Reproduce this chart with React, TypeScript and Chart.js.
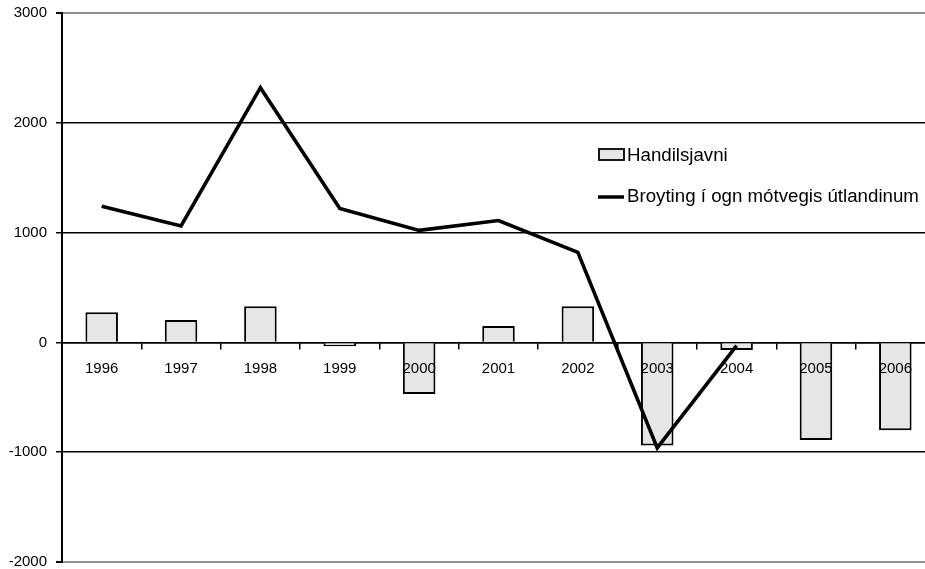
import React, { useEffect, useRef } from "react";
import { Chart, registerables } from "chart.js";

Chart.register(...registerables);

const years = ["1996", "1997", "1998", "1999", "2000", "2001", "2002", "2003", "2004", "2005", "2006"];
const tradeBalance = [275, 205, 330, -35, -470, 150, 330, -940, -70, -890, -800];
const foreignChange: (number | null)[] = [1240, 1060, 2320, 1220, 1020, 1110, 820, -960, -30, null, null];
const yTicks = [-2000, -1000, 0, 1000, 2000, 3000];

const barLabel = "Handilsjavni";
const lineLabel = "Broyting í ogn mótvegis útlandinum";

const FONT = "'Liberation Sans', Arial, sans-serif";

const legendPlugin = {
  id: "insideLegend",
  afterDraw(chart: any) {
    const ctx = chart.ctx;
    const ds = chart.data.datasets;
    ctx.save();
    ctx.font = `18.7px ${FONT}`;
    ctx.textBaseline = "middle";
    // bar entry
    ctx.fillStyle = ds[1].backgroundColor;
    ctx.fillRect(599, 149, 25, 11);
    ctx.lineWidth = 1.8;
    ctx.strokeStyle = "#000";
    ctx.strokeRect(599, 149, 25, 11);
    ctx.fillStyle = "#000";
    ctx.fillText(ds[1].label, 627, 156);
    // line entry
    ctx.beginPath();
    ctx.lineWidth = 3.5;
    ctx.moveTo(598, 197);
    ctx.lineTo(624, 197);
    ctx.stroke();
    ctx.fillText(ds[0].label, 627, 197);
    ctx.restore();
  },
};

export default function App() {
  const ref = useRef<HTMLCanvasElement | null>(null);

  useEffect(() => {
    if (!ref.current) return;
    const chart = new Chart(ref.current, {
      data: {
        labels: years,
        datasets: [
          {
            type: "line",
            label: lineLabel,
            data: foreignChange,
            borderColor: "#000",
            borderWidth: 3.6,
            pointRadius: 0,
            tension: 0,
            order: 0,
            spanGaps: false,
          } as any,
          {
            type: "bar",
            label: barLabel,
            data: tradeBalance,
            backgroundColor: "#e6e6e6",
            borderColor: "#000",
            borderWidth: 2,
            barPercentage: 0.41,
            categoryPercentage: 1,
            order: 1,
          } as any,
        ],
      },
      options: {
        animation: false,
        responsive: false,
        layout: { padding: { top: 13, bottom: 7, left: 0, right: 0 } },
        plugins: { legend: { display: false }, tooltip: { enabled: false } },
        scales: {
          x: {
            type: "category",
            position: { y: 0 } as any,
            offset: true,
            grid: {
              drawOnChartArea: false,
              offset: true,
              color: "#000",
              tickLength: 6,
              lineWidth: 1.5,
            },
            border: { display: true, color: "#000", width: 1.5 },
            ticks: {
              color: "#000",
              font: { family: FONT, size: 15 },
              padding: 11,
              maxRotation: 0,
              autoSkip: false,
              z: 1,
            } as any,
          },
          y: {
            min: -2000,
            max: 3000,
            afterFit(scale: any) {
              scale.width = 62;
              scale.paddingTop = 0;
              scale.paddingBottom = 0;
            },
            afterBuildTicks(scale: any) {
              scale.ticks = yTicks.map((v) => ({ value: v }));
            },
            grid: {
              color: (c: any) =>
                c.tick && (c.tick.value === 3000 || c.tick.value === -2000) ? "#8f8f8f" : "#000",
              lineWidth: (c: any) =>
                c.tick && (c.tick.value === 3000 || c.tick.value === -2000) ? 2 : 1.5,
              tickColor: "#000",
              tickLength: 6,
            },
            border: { display: true, color: "#000", width: 2 },
            ticks: {
              color: "#000",
              font: { family: FONT, size: 15 },
              padding: 9,
              callback: (v: any) => String(v),
            },
          },
        },
      },
      plugins: [legendPlugin],
    });
    return () => chart.destroy();
  }, []);

  return (
    <div style={{ position: "fixed", left: 0, top: 0, width: 935, height: 569, overflow: "hidden" }}>
      <canvas ref={ref} width={935} height={569} style={{ display: "block" }} />
    </div>
  );
}
